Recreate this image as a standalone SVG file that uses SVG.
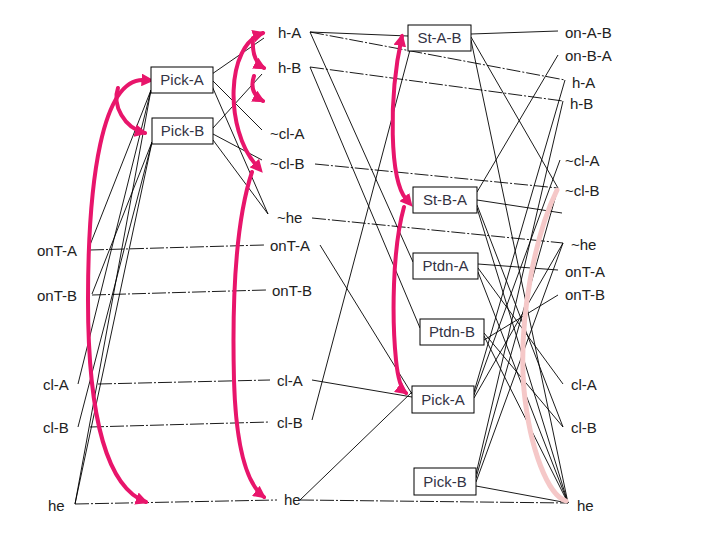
<svg xmlns="http://www.w3.org/2000/svg" width="720" height="540" viewBox="0 0 720 540">
<defs>
<style>
text{font-family:"Liberation Sans",Arial,sans-serif;font-size:15px;fill:#222}
.box rect{fill:#fff;stroke:#000;stroke-width:1}
.box text{text-anchor:middle;fill:#333344}
.e{stroke:#000;stroke-width:0.9;fill:none}
.n{stroke:#000;stroke-width:0.9;fill:none;stroke-dasharray:14 2 2 2}
.m{stroke:#e8156b;stroke-width:4;fill:none;stroke-linecap:round}
.p{stroke:#f5c8c8;stroke-width:5;fill:none;stroke-linecap:round}
</style>
<marker id="ah" viewBox="0 0 10 10" refX="8" refY="5" markerWidth="3.2" markerHeight="3.2" orient="auto" markerUnits="strokeWidth">
<path d="M0,0 L10,5 L0,10 z" fill="#e8156b"/>
</marker>
<marker id="ahs" viewBox="0 0 10 10" refX="2" refY="5" markerWidth="3.2" markerHeight="3.2" orient="auto-start-reverse" markerUnits="strokeWidth">
<path d="M0,0 L10,5 L0,10 z" fill="#e8156b"/>
</marker>
</defs>
<rect width="720" height="540" fill="#fff"/>

<g id="connectors">
<!-- level 0 -> level 1 actions -->
<line class="e" x1="88" y1="250" x2="151" y2="90"/>
<line class="e" x1="78" y1="384" x2="151" y2="90"/>
<line class="e" x1="75" y1="504" x2="151" y2="90"/>
<line class="e" x1="92" y1="294" x2="152" y2="142"/>
<line class="e" x1="78" y1="427" x2="152" y2="142"/>
<line class="e" x1="75" y1="504" x2="152" y2="142"/>
<!-- level 1 no-ops -->
<line class="n" x1="90" y1="250" x2="264" y2="245"/>
<line class="n" x1="92" y1="295" x2="266" y2="290"/>
<line class="n" x1="98" y1="384" x2="270" y2="380"/>
<line class="n" x1="90" y1="427" x2="270" y2="422"/>
<line class="n" x1="75" y1="504" x2="277" y2="500"/>
<!-- level 1 action effects -->
<line class="e" x1="212" y1="74" x2="264" y2="38"/>
<line class="e" x1="212" y1="80" x2="262" y2="130"/>
<line class="e" x1="212" y1="86" x2="268" y2="214"/>
<line class="e" x1="213" y1="128" x2="262" y2="74"/>
<line class="e" x1="213" y1="134" x2="262" y2="160"/>
<line class="e" x1="213" y1="140" x2="268" y2="214"/>
<!-- level 1 props -> level 2 actions -->
<line class="e" x1="310" y1="32" x2="408" y2="36"/>
<line class="e" x1="310" y1="32" x2="413" y2="262"/>
<line class="e" x1="310" y1="67" x2="420" y2="328"/>
<line class="e" x1="312" y1="420" x2="410" y2="50"/>
<line class="e" x1="320" y1="245" x2="412" y2="394"/>
<line class="e" x1="312" y1="380" x2="412" y2="397"/>
<line class="e" x1="300" y1="500" x2="412" y2="392"/>
<!-- level 2 no-ops -->
<line class="n" x1="310" y1="32" x2="565" y2="80"/>
<line class="n" x1="310" y1="67" x2="563" y2="101"/>
<line class="n" x1="315" y1="164" x2="558" y2="188"/>
<line class="n" x1="312" y1="218" x2="563" y2="243"/>
<line class="n" x1="300" y1="500" x2="568" y2="503"/>
<!-- level 2 action effects -->
<line class="e" x1="471" y1="34" x2="558" y2="31"/>
<line class="e" x1="471" y1="37" x2="558" y2="188"/>
<line class="e" x1="471" y1="40" x2="568" y2="503"/>
<line class="e" x1="477" y1="192" x2="558" y2="55"/>
<line class="e" x1="477" y1="200" x2="562" y2="213"/>
<line class="e" x1="477" y1="205" x2="563" y2="427"/>
<line class="e" x1="477" y1="208" x2="568" y2="503"/>
<line class="e" x1="478" y1="264" x2="558" y2="270"/>
<line class="e" x1="478" y1="268" x2="563" y2="384"/>
<line class="e" x1="478" y1="272" x2="568" y2="503"/>
<line class="e" x1="484" y1="340" x2="558" y2="295"/>
<line class="e" x1="484" y1="333" x2="563" y2="427"/>
<line class="e" x1="484" y1="336" x2="568" y2="503"/>
<line class="e" x1="474" y1="392" x2="565" y2="80"/>
<line class="e" x1="474" y1="395" x2="560" y2="160"/>
<line class="e" x1="474" y1="398" x2="563" y2="243"/>
<line class="e" x1="476" y1="474" x2="563" y2="101"/>
<line class="e" x1="476" y1="478" x2="558" y2="188"/>
<line class="e" x1="476" y1="482" x2="563" y2="243"/>
<line class="e" x1="476" y1="486" x2="568" y2="503"/>
<!-- light pink curve -->
<path class="p" d="M557,190 C535,235 518,320 524,390 C530,450 548,495 566,501"/>
<!-- magenta search arrows -->
<path class="m" marker-start="url(#ahs)" marker-end="url(#ah)" d="M144,80 C102,78 88,180 88,300 C88,420 108,488 146,502"/>
<path class="m" marker-end="url(#ah)" d="M118,88 C112,105 124,128 145,133"/>
<path class="m" marker-start="url(#ahs)" marker-end="url(#ah)" d="M256,165 C225,130 225,45 263,33"/>
<path class="m" marker-end="url(#ah)" d="M253,38 C252,52 255,63 264,68"/>
<path class="m" marker-end="url(#ah)" d="M254,76 C250,88 254,96 263,101"/>
<path class="m" marker-end="url(#ah)" d="M252,172 C236,220 232,300 234,380 C236,450 248,485 264,497"/>
<path class="m" marker-start="url(#ahs)" marker-end="url(#ah)" d="M406,199 C390,180 388,100 402,36"/>
<path class="m" marker-end="url(#ah)" d="M404,207 C392,250 392,320 396,360 C398,380 402,390 406,393"/>
</g>

<g id="l0-onT-A"><text x="37" y="256">onT-A</text></g>
<g id="l0-onT-B"><text x="37" y="301">onT-B</text></g>
<g id="l0-cl-A"><text x="43" y="390">cl-A</text></g>
<g id="l0-cl-B"><text x="43" y="433">cl-B</text></g>
<g id="l0-he"><text x="48" y="511">he</text></g>

<g id="a1-Pick-A" class="box"><rect x="151" y="67" width="62" height="26"/><text x="182" y="85">Pick-A</text></g>
<g id="a1-Pick-B" class="box"><rect x="152" y="118" width="61" height="26"/><text x="182.5" y="136">Pick-B</text></g>

<g id="l1-h-A"><text x="278" y="38">h-A</text></g>
<g id="l1-h-B"><text x="278" y="73">h-B</text></g>
<g id="l1-ncl-A"><text x="270" y="139">~cl-A</text></g>
<g id="l1-ncl-B"><text x="270" y="169">~cl-B</text></g>
<g id="l1-nhe"><text x="277" y="223">~he</text></g>
<g id="l1-onT-A"><text x="270" y="251">onT-A</text></g>
<g id="l1-onT-B"><text x="272" y="296">onT-B</text></g>
<g id="l1-cl-A"><text x="277" y="386">cl-A</text></g>
<g id="l1-cl-B"><text x="277" y="428">cl-B</text></g>
<g id="l1-he"><text x="284" y="505">he</text></g>

<g id="a2-St-A-B" class="box"><rect x="408" y="25" width="63" height="26"/><text x="439.5" y="43">St-A-B</text></g>
<g id="a2-St-B-A" class="box"><rect x="413" y="187" width="64" height="26"/><text x="445" y="205">St-B-A</text></g>
<g id="a2-Ptdn-A" class="box"><rect x="413" y="253" width="65" height="26"/><text x="445.5" y="271">Ptdn-A</text></g>
<g id="a2-Ptdn-B" class="box"><rect x="420" y="319" width="64" height="26"/><text x="452" y="337">Ptdn-B</text></g>
<g id="a2-Pick-A" class="box"><rect x="412" y="386" width="62" height="27"/><text x="443" y="405">Pick-A</text></g>
<g id="a2-Pick-B" class="box"><rect x="414" y="468" width="62" height="27"/><text x="445" y="487">Pick-B</text></g>

<g id="l2-on-A-B"><text x="565" y="38">on-A-B</text></g>
<g id="l2-on-B-A"><text x="565" y="61">on-B-A</text></g>
<g id="l2-h-A"><text x="572" y="88">h-A</text></g>
<g id="l2-h-B"><text x="570" y="109">h-B</text></g>
<g id="l2-ncl-A"><text x="565" y="166">~cl-A</text></g>
<g id="l2-ncl-B"><text x="565" y="196">~cl-B</text></g>
<g id="l2-nhe"><text x="571" y="250">~he</text></g>
<g id="l2-onT-A"><text x="565" y="277">onT-A</text></g>
<g id="l2-onT-B"><text x="565" y="300">onT-B</text></g>
<g id="l2-cl-A"><text x="571" y="390">cl-A</text></g>
<g id="l2-cl-B"><text x="571" y="433">cl-B</text></g>
<g id="l2-he"><text x="577" y="511">he</text></g>
</svg>
